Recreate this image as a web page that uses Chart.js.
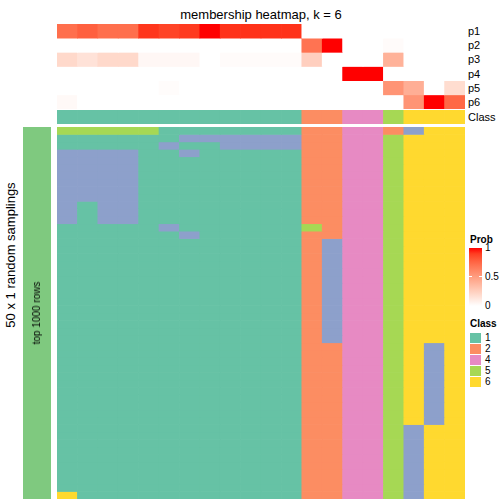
<!DOCTYPE html>
<html>
<head>
<meta charset="utf-8">
<script src="https://cdn.jsdelivr.net/npm/chart.js@4.4.1/dist/chart.umd.min.js"></script>
<style>
  body { margin: 0; width: 504px; height: 504px; position: relative; background: #fff; overflow: hidden;
         font-family: "Liberation Sans", Arial, Helvetica, sans-serif; color: #000; }
  canvas { position: absolute; }
  .t { position: absolute; white-space: nowrap; line-height: 1; }
  .c { transform: translate(-50%, -50%); }
  .r { transform: translate(-50%, -50%) rotate(-90deg); }
  .m { transform: translateY(-50%); }
</style>
</head>
<body>
<canvas id="probChart" width="408" height="85" style="left:57px;top:24px"></canvas>
<canvas id="classChart" width="408" height="14" style="left:57px;top:110px"></canvas>
<canvas id="mainChart" width="408" height="372" style="left:57px;top:127px"></canvas>
<canvas id="leftChart" width="28" height="372" style="left:23px;top:127px"></canvas>
<div id="texts"></div>

<script>
// ---- data ----
const title = "membership heatmap, k = 6";
const probNames = ["p1", "p2", "p3", "p4", "p5", "p6"];
const p1 = [0.72, 0.78, 0.72, 0.72, 0.92, 0.88, 0.91, 1, 0.93, 0.93, 0.93, 0.93, 0, 0, 0, 0, 0, 0, 0, 0];
const p2 = [0, 0, 0, 0, 0, 0, 0, 0, 0, 0, 0, 0, 0.7, 1, 0, 0, 0.02, 0, 0, 0];
const p3 = [0.2, 0.15, 0.2, 0.2, 0.04, 0.04, 0.04, 0, 0.02, 0.02, 0.02, 0.02, 0.25, 0, 0, 0, 0.4, 0, 0, 0];
const p4 = [0, 0, 0, 0, 0, 0, 0, 0, 0, 0, 0, 0, 0, 0, 1, 1, 0, 0, 0, 0];
const p5 = [0, 0, 0, 0, 0, 0.015, 0, 0, 0, 0, 0, 0, 0, 0, 0, 0, 0.55, 0.42, 0, 0.18];
const p6 = [0.03, 0, 0, 0, 0, 0, 0, 0, 0, 0, 0, 0, 0, 0, 0, 0, 0, 0.55, 1, 0.75];
const classRow = "11111111111122445666";
// one string per random sampling, one digit per column
const samplings = [
  "55555111111122442366",
  "11111133333322445666",
  "11111311333322445666",
  "33331131111122445666",
  "33331111111122445666",
  "33331111111122445666",
  "33331111111122445666",
  "33331111111122445666",
  "33331111111122445666",
  "33331111111122445666",
  "31331111111122445666",
  "31331111111122445666",
  "31331111111122445666",
  "11111311111152445666",
  "11111131111122445666",
  "11111111111123445666",
  "11111111111123445666",
  "11111111111123445666",
  "11111111111123445666",
  "11111111111123445666",
  "11111111111123445666",
  "11111111111123445666",
  "11111111111123445666",
  "11111111111123445666",
  "11111111111123445666",
  "11111111111123445666",
  "11111111111123445666",
  "11111111111123445666",
  "11111111111123445666",
  "11111111111122445636",
  "11111111111122445636",
  "11111111111122445636",
  "11111111111122445636",
  "11111111111122445636",
  "11111111111122445636",
  "11111111111122445636",
  "11111111111122445636",
  "11111111111122445636",
  "11111111111122445636",
  "11111111111122445636",
  "11111111111122445366",
  "11111111111122445366",
  "11111111111122445366",
  "11111111111122445366",
  "11111111111122445366",
  "11111111111122445366",
  "11111111111122445366",
  "11111111111122445366",
  "11111111111122445366",
  "61111111111122445366"
];
const legendClasses = ["1", "2", "4", "5", "6"];
const probTicks = [1, 0.5, 0];

const classColors = { "1": "#66C2A5", "2": "#FC8D62", "3": "#8DA0CB", "4": "#E78AC3", "5": "#A6D854", "6": "#FFD92F" };
const leftColor = "#7FC97F";

// white -> red in LAB space
function lin(c) { c /= 255; return c <= 0.04045 ? c / 12.92 : Math.pow((c + 0.055) / 1.055, 2.4); }
function unlin(c) { c = c <= 0.0031308 ? 12.92 * c : 1.055 * Math.pow(c, 1 / 2.4) - 0.055; return Math.round(Math.max(0, Math.min(1, c)) * 255); }
function toLab(rgb) {
  const [r, g, b] = rgb.map(lin);
  let x = (0.4124 * r + 0.3576 * g + 0.1805 * b) / 0.95047;
  let y = 0.2126 * r + 0.7152 * g + 0.0722 * b;
  let z = (0.0193 * r + 0.1192 * g + 0.9505 * b) / 1.08883;
  const f = t => t > 0.008856 ? Math.cbrt(t) : 7.787 * t + 16 / 116;
  x = f(x); y = f(y); z = f(z);
  return [116 * y - 16, 500 * (x - y), 200 * (y - z)];
}
function fromLab([L, a, bb]) {
  const fy = (L + 16) / 116, fx = fy + a / 500, fz = fy - bb / 200;
  const fi = t => t * t * t > 0.008856 ? t * t * t : (t - 16 / 116) / 7.787;
  const x = fi(fx) * 0.95047, y = fi(fy), z = fi(fz) * 1.08883;
  const r = 3.2406 * x - 1.5372 * y - 0.4986 * z;
  const g = -0.9689 * x + 1.8758 * y + 0.0415 * z;
  const b = 0.0557 * x - 0.2040 * y + 1.0570 * z;
  return `rgb(${unlin(r)},${unlin(g)},${unlin(b)})`;
}
const labW = toLab([255, 255, 255]), labR = toLab([255, 0, 0]);
function probColor(v) { return fromLab(labW.map((w, i) => w + (labR[i] - w) * v)); }

// ---- charts: every cell is a floating bar [row, row+1] ----
function heatmap(id, colorRows) {
  const nCols = colorRows[0].length;
  const labels = Array.from({ length: nCols }, (_, i) => String(i + 1));
  new Chart(document.getElementById(id), {
    type: "bar",
    data: {
      labels: labels,
      datasets: colorRows.map((colors, r) => ({
        data: labels.map(() => [r, r + 1]),
        backgroundColor: colors,
        borderWidth: 0,
        grouped: false,
        barPercentage: 1,
        categoryPercentage: 1
      }))
    },
    options: {
      responsive: false,
      animation: false,
      devicePixelRatio: 1,
      layout: { padding: 0 },
      plugins: { legend: { display: false }, tooltip: { enabled: false } },
      scales: {
        x: { display: false },
        y: { display: false, min: 0, max: colorRows.length, reverse: true }
      }
    }
  });
}

const probs = [p1, p2, p3, p4, p5, p6];
heatmap("probChart", probs.map(row => row.map(probColor)));
heatmap("classChart", [classRow.split("").map(c => classColors[c])]);
heatmap("mainChart", samplings.map(s => s.split("").map(c => classColors[c])));
heatmap("leftChart", [[leftColor]]);

// ---- text ----
const texts = document.getElementById("texts");
function addText(html, x, y, cls, style) {
  const d = document.createElement("div");
  d.className = "t " + cls;
  d.style.left = x + "px";
  d.style.top = y + "px";
  d.style.cssText += style || "";
  d.innerHTML = html;
  texts.appendChild(d);
  return d;
}
addText(title, 261, 14, "c", "font-size:13px;");
probNames.concat(["Class"]).forEach((n, i) => {
  const y = i < 6 ? 24 + 85 / 6 * (i + 0.5) : 117;
  addText(n, 468, y, "m", "font-size:11px;");
});
addText("50 x 1 random samplings", 10, 255, "r", "font-size:13px;");
addText("top 1000 rows", 37, 313, "r", "font-size:10px;");

// Prob legend
addText("Prob", 470, 240, "m", "font-size:10px;font-weight:bold;");
const barTop = 247.5, barH = 58.5;
const grad = [];
for (let i = 0; i <= 10; i++) grad.push(probColor(1 - i / 10) + " " + (i * 10) + "%");
const gbar = document.createElement("div");
gbar.style.cssText = `position:absolute;left:469px;top:${barTop}px;width:13px;height:${barH}px;background:linear-gradient(${grad.join(",")});`;
texts.appendChild(gbar);
probTicks.forEach(v => {
  const y = barTop + (1 - v) * barH;
  addText(String(v), 485, y, "m", "font-size:10px;");
  ["469px", "479px"].forEach(lx => {
    const tk = document.createElement("div");
    tk.style.cssText = `position:absolute;left:${lx};top:${y - 0.5}px;width:3px;height:1px;background:#fff;`;
    texts.appendChild(tk);
  });
});

// Class legend
addText("Class", 470, 324, "m", "font-size:10px;font-weight:bold;");
legendClasses.forEach((c, i) => {
  const y = 332 + i * 11;
  const box = document.createElement("div");
  box.style.cssText = `position:absolute;left:469px;top:${y}px;width:11px;height:10px;background:${classColors[c]};border:0.5px solid #fff;`;
  texts.appendChild(box);
  addText(c, 485, y + 5.5, "m", "font-size:10px;");
});
</script>
</body>
</html>
